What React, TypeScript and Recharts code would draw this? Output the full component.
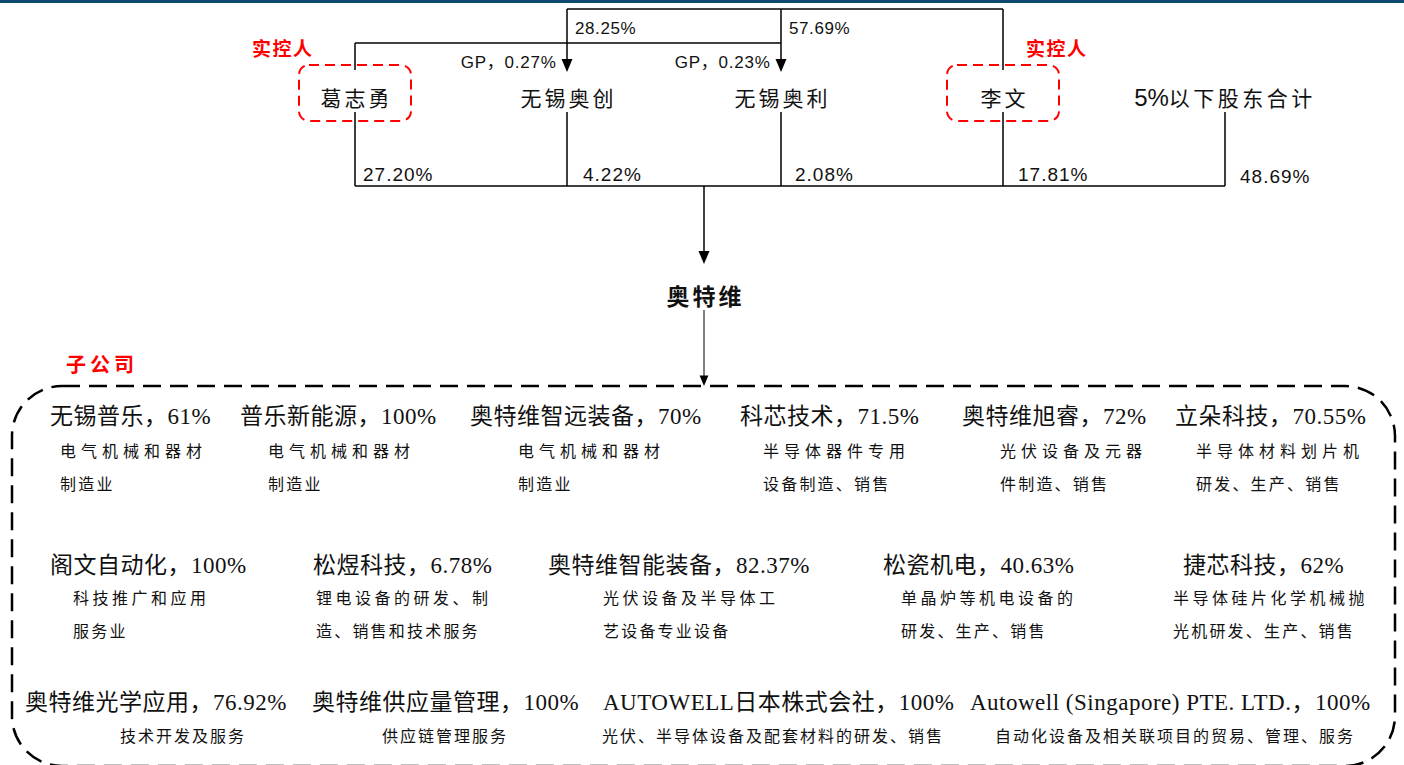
import React from "react";
import {
  ScatterChart, Scatter, XAxis, YAxis, ReferenceLine, ReferenceArea,
} from "recharts";

const W = 1404;
const H = 765;

// ---- shareholders (top of the chart)
const holderNames = ["葛志勇", "无锡奥创", "无锡奥利", "李文", "5%以下股东合计"];
const holderShares = ["27.20%", "4.22%", "2.08%", "17.81%", "48.69%"];
const controllerIdx = [0, 3];
const controllerTag = "实控人";
const gpShares = ["GP，0.27%", "GP，0.23%"];
const lpShares = ["28.25%", "57.69%"];
const parentName = "奥特维";
const subGroupTag = "子公司";

// ---- subsidiaries
const subNames = [
  "无锡普乐", "普乐新能源", "奥特维智远装备", "科芯技术", "奥特维旭睿", "立朵科技",
  "阁文自动化", "松煜科技", "奥特维智能装备", "松瓷机电", "捷芯科技",
  "奥特维光学应用", "奥特维供应量管理", "AUTOWELL日本株式会社", "Autowell (Singapore) PTE. LTD.",
];
const subStakes = [
  "61%", "100%", "70%", "71.5%", "72%", "70.55%",
  "100%", "6.78%", "82.37%", "40.63%", "62%",
  "76.92%", "100%", "100%", "100%",
];
const subDescA = [
  "电气机械和器材", "电气机械和器材", "电气机械和器材", "半导体器件专用", "光伏设备及元器", "半导体材料划片机",
  "科技推广和应用", "锂电设备的研发、制", "光伏设备及半导体工", "单晶炉等机电设备的", "半导体硅片化学机械抛",
  "技术开发及服务", "供应链管理服务", "光伏、半导体设备及配套材料的研发、销售", "自动化设备及相关联项目的贸易、管理、服务",
];
const subDescB = [
  "制造业", "制造业", "制造业", "设备制造、销售", "件制造、销售", "研发、生产、销售",
  "服务业", "造、销售和技术服务", "艺设备专业设备", "研发、生产、销售", "光机研发、生产、销售",
  "", "", "", "",
];

// ---- layout (chart units = pixels, y grows downward)
const HOLDER_X = [355, 567, 781, 1003, 1225];
const HOLDER_Y = 97;
const SHARE_DX = [8, 16, 14, 15, 15];
const SHARE_Y = [174, 174, 174, 174, 176];
const TOP_Y = 9;
const MID_Y = 43;
const ARROW_Y = 72;
const BAR_Y = 186;
const PARENT_X = 704;
const PARENT_Y = 295;
const GROUP = { x1: 12, x2: 1395, y1: 386, y2: 766 };
const SUB_TITLE_X = [50, 240, 470, 740, 962, 1175, 50, 313, 548, 883, 1183, 25, 312, 603, 970];
const SUB_DESC_X = [60, 268, 518, 763, 1000, 1196, 73, 316, 603, 901, 1173, 120, 382, 602, 995];
const SUB_ROW = [0, 0, 0, 0, 0, 0, 1, 1, 1, 1, 1, 2, 2, 2, 2];
const ROW_TITLE_Y = [416, 565, 702];
const ROW_DESC_Y = [[450, 483], [597, 630], [735, 768]];

const SERIF = "'Liberation Serif', 'Noto Sans CJK SC', serif";
const SANS = "'Liberation Sans', Arial, 'Noto Sans CJK SC', sans-serif";
const CJK = "'Noto Sans CJK SC', sans-serif";

type Kind = "holder" | "share" | "gp" | "lp" | "tag" | "parent" | "group"
  | "subTitle" | "descA1" | "descA2" | "descB" | "descC";

const STYLE: Record<Kind, { size: number; font: string; fill: string; weight: number; spacing: number; anchor: "start" | "middle" | "end" }> = {
  holder:   { size: 21, font: CJK,   fill: "#111", weight: 400, spacing: 3,   anchor: "middle" },
  share:    { size: 19, font: SANS,  fill: "#111", weight: 400, spacing: 1,   anchor: "start" },
  gp:       { size: 17, font: SANS,  fill: "#111", weight: 400, spacing: 0.8, anchor: "end" },
  lp:       { size: 17, font: SANS,  fill: "#111", weight: 400, spacing: 0.6, anchor: "start" },
  tag:      { size: 19, font: CJK,   fill: "#ff0000", weight: 700, spacing: 1.5, anchor: "middle" },
  parent:   { size: 23, font: CJK,   fill: "#111", weight: 700, spacing: 3,   anchor: "middle" },
  group:    { size: 20, font: CJK,   fill: "#ff0000", weight: 700, spacing: 4, anchor: "start" },
  subTitle: { size: 23, font: SERIF, fill: "#111", weight: 400, spacing: 0.5, anchor: "start" },
  descA1:   { size: 16, font: CJK,   fill: "#111", weight: 400, spacing: 5,   anchor: "start" },
  descA2:   { size: 16, font: CJK,   fill: "#111", weight: 400, spacing: 3.5, anchor: "start" },
  descB:    { size: 16, font: CJK,   fill: "#111", weight: 400, spacing: 2.2, anchor: "start" },
  descC:    { size: 16, font: CJK,   fill: "#111", weight: 400, spacing: 2,   anchor: "start" },
};

const DESC_A_KIND: Kind[] = ["descA1", "descA2", "descC"];

interface LabelPoint { x: number; y: number; text: string; kind: Kind }

const labels: LabelPoint[] = [
  ...holderNames.map((t, i) => ({ x: HOLDER_X[i], y: HOLDER_Y, text: t, kind: "holder" as Kind })),
  ...holderShares.map((t, i) => ({ x: HOLDER_X[i] + SHARE_DX[i], y: SHARE_Y[i], text: t, kind: "share" as Kind })),
  ...gpShares.map((t, i) => ({ x: HOLDER_X[i + 1] - 11, y: 62, text: t, kind: "gp" as Kind })),
  ...lpShares.map((t, i) => ({ x: HOLDER_X[i + 1] + 8, y: 28, text: t, kind: "lp" as Kind })),
  { x: HOLDER_X[0] - 73, y: 47, text: controllerTag, kind: "tag" },
  { x: HOLDER_X[3] + 53, y: 47, text: controllerTag, kind: "tag" },
  { x: PARENT_X, y: PARENT_Y, text: parentName, kind: "parent" },
  { x: 66, y: 363, text: subGroupTag, kind: "group" },
  ...subNames.map((n, i) => ({ x: SUB_TITLE_X[i], y: ROW_TITLE_Y[SUB_ROW[i]], text: `${n}，${subStakes[i]}`, kind: "subTitle" as Kind })),
  ...subDescA.map((t, i) => ({
    x: SUB_DESC_X[i], y: ROW_DESC_Y[SUB_ROW[i]][0], text: t, kind: DESC_A_KIND[SUB_ROW[i]],
  })),
  ...subDescB
    .map((t, i) => ({ x: SUB_DESC_X[i], y: ROW_DESC_Y[SUB_ROW[i]][1], text: t, kind: "descB" as Kind }))
    .filter((p) => p.text !== ""),
];

const boxes = controllerIdx.map((i) => ({ x: HOLDER_X[i], y: HOLDER_Y }));

const arrows = [
  { x: HOLDER_X[1], y: ARROW_Y, s: 1 },
  { x: HOLDER_X[2], y: ARROW_Y, s: 1 },
  { x: PARENT_X, y: 264, s: 1 },
  { x: PARENT_X, y: GROUP.y1, s: 0.8 },
];

const segments = [
  { x1: HOLDER_X[0], y1: MID_Y, x2: HOLDER_X[0], y2: 70, w: 1.5 },
  { x1: HOLDER_X[0], y1: MID_Y, x2: HOLDER_X[2], y2: MID_Y, w: 1.5 },
  { x1: HOLDER_X[2], y1: TOP_Y, x2: HOLDER_X[2], y2: ARROW_Y - 6, w: 1.5 },
  { x1: HOLDER_X[3], y1: TOP_Y, x2: HOLDER_X[3], y2: 70, w: 1.5 },
  { x1: HOLDER_X[1], y1: TOP_Y, x2: HOLDER_X[3], y2: TOP_Y, w: 1.5 },
  { x1: HOLDER_X[1], y1: TOP_Y, x2: HOLDER_X[1], y2: ARROW_Y - 6, w: 1.5 },
  ...HOLDER_X.map((x) => ({ x1: x, y1: 112, x2: x, y2: BAR_Y, w: 1.5 })),
  { x1: HOLDER_X[0], y1: BAR_Y, x2: HOLDER_X[4], y2: BAR_Y, w: 1.5 },
  { x1: PARENT_X, y1: BAR_Y, x2: PARENT_X, y2: 258, w: 1.5 },
  { x1: PARENT_X, y1: 310, x2: PARENT_X, y2: GROUP.y1 - 5, w: 1 },
];

function renderLabel(props: any) {
  const { cx, cy, payload } = props;
  const st = STYLE[payload.kind as Kind];
  const dx = st.anchor === "middle" ? st.spacing / 2 : st.anchor === "end" ? st.spacing : 0;
  if (payload.kind === "holder" && payload.text.startsWith("5%")) {
    return (
      <text x={cx} y={cy} textAnchor="middle" dominantBaseline="central" fill={st.fill}
        fontFamily={CJK} fontSize={st.size} letterSpacing={3.5}>
        <tspan fontFamily={SANS} fontSize={24} letterSpacing={0}>5%</tspan>
        {payload.text.slice(2)}
      </text>
    );
  }
  return (
    <text x={cx + dx} y={cy} textAnchor={st.anchor} dominantBaseline="central"
      fill={st.fill} fontFamily={st.font} fontSize={st.size} fontWeight={st.weight}
      letterSpacing={st.spacing}>
      {payload.text}
    </text>
  );
}

function renderBox(props: any) {
  const { cx, cy } = props;
  return (
    <rect x={cx - 56} y={cy - 32} width={112} height={56} rx={10} ry={10}
      fill="none" stroke="#ff0000" strokeWidth={2} strokeDasharray="10 6" />
  );
}

function renderArrow(props: any) {
  const { cx, cy, payload } = props;
  const s = payload.s;
  return (
    <polygon points={`${cx - 5.5 * s},${cy - 13 * s} ${cx + 5.5 * s},${cy - 13 * s} ${cx},${cy}`} fill="#000" />
  );
}

function renderGroupBox(props: any) {
  const { x, y, width, height } = props;
  return (
    <rect x={x} y={y} width={width} height={height} rx={50} ry={50}
      fill="none" stroke="#000" strokeWidth={2.5} strokeDasharray="18 9" />
  );
}

export default function App() {
  return (
    <div style={{ position: "absolute", left: 0, top: 0, width: W, height: H, background: "#fff" }}>
      <ScatterChart width={W} height={H} margin={{ top: 0, right: 0, bottom: 0, left: 0 }}>
        <XAxis type="number" dataKey="x" domain={[0, W]} allowDataOverflow hide />
        <YAxis type="number" dataKey="y" domain={[0, H]} allowDataOverflow reversed hide />
        <ReferenceLine y={1.5} stroke="#0d4a70" strokeWidth={3} ifOverflow="visible" />
        <ReferenceArea x1={GROUP.x1} x2={GROUP.x2} y1={GROUP.y1} y2={GROUP.y2}
          ifOverflow="visible" shape={renderGroupBox} />
        {segments.map((s, i) => (
          <ReferenceLine key={i} segment={[{ x: s.x1, y: s.y1 }, { x: s.x2, y: s.y2 }]}
            stroke="#000" strokeWidth={s.w} ifOverflow="visible" />
        ))}
        <Scatter data={boxes} shape={renderBox} isAnimationActive={false} />
        <Scatter data={arrows} shape={renderArrow} isAnimationActive={false} />
        <Scatter data={labels} shape={renderLabel} isAnimationActive={false} />
      </ScatterChart>
    </div>
  );
}
